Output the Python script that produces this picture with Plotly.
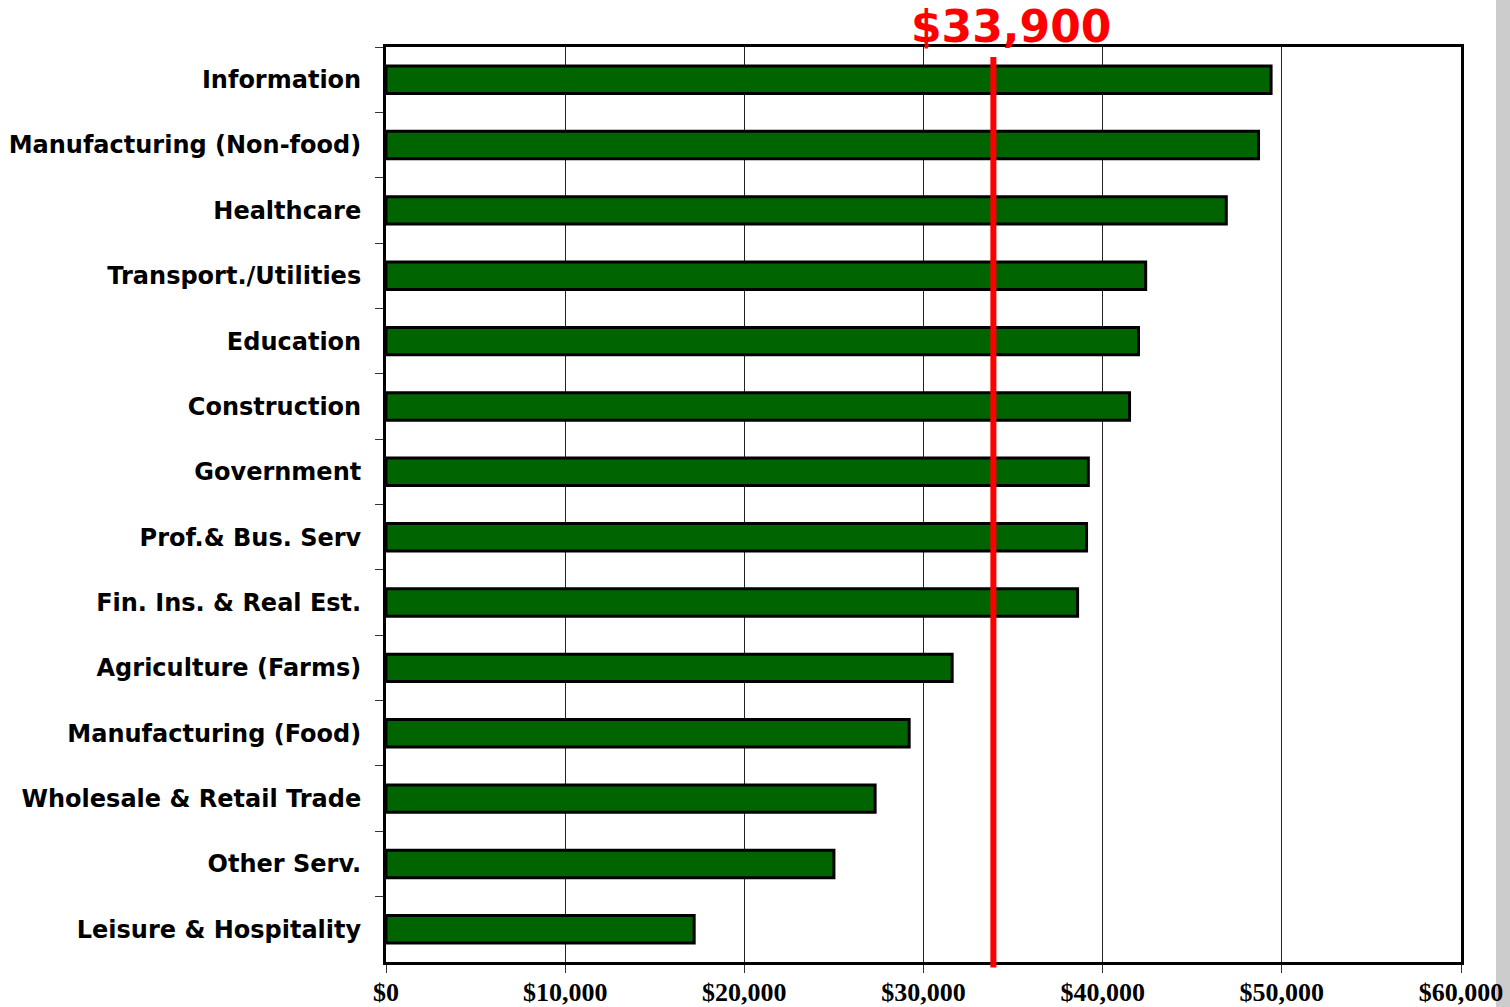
import plotly.graph_objects as go

categories = [
    "Information", "Manufacturing (Non-food)", "Healthcare", "Transport./Utilities",
    "Education", "Construction", "Government", "Prof.& Bus. Serv",
    "Fin. Ins. & Real Est.", "Agriculture (Farms)", "Manufacturing (Food)",
    "Wholesale & Retail Trade", "Other Serv.", "Leisure & Hospitality",
]
wages = [49400, 48700, 46900, 42400, 42000, 41500, 39200, 39100, 38600,
         31600, 29200, 27300, 25000, 17200]
average_wage = 33900
average_label = "$33,900"
x_tick_vals = [0, 10000, 20000, 30000, 40000, 50000, 60000]
x_tick_text = ["$0", "$10,000", "$20,000", "$30,000", "$40,000", "$50,000", "$60,000"]

fig = go.Figure()
fig.add_trace(go.Bar(
    y=categories, x=wages, orientation="h",
    marker=dict(color="#006400", line=dict(color="black", width=3)),
    width=0.42,
))

fig.add_shape(type="line", xref="x", yref="paper",
              x0=average_wage, x1=average_wage, y0=-0.006, y1=0.989,
              line=dict(color="#ff0000", width=6), layer="above")
fig.add_annotation(xref="x", yref="paper", x=average_wage + 1000, y=1.0,
                   yanchor="bottom", xanchor="center", yshift=-7,
                   text=average_label, showarrow=False,
                   font=dict(family="DejaVu Sans", size=44, color="#ff0000", weight="bold"))

# grey strip on right edge
fig.add_shape(type="rect", xref="paper", yref="paper",
              x0=1.0 + (1496 - 1461) / 1075, x1=1.0 + (1520 - 1461) / 1075,
              y0=-1, y1=2, fillcolor="#cccccc", line=dict(width=0), layer="below")

fig.update_layout(
    width=1510, height=1007,
    margin=dict(l=386, r=49, t=47, b=45),
    paper_bgcolor="white", plot_bgcolor="white",
    showlegend=False,
    xaxis=dict(
        range=[0, 60000], tickvals=x_tick_vals, ticktext=x_tick_text,
        showgrid=True, gridcolor="#222222", gridwidth=1,
        showline=True, linecolor="black", linewidth=3, mirror=True,
        ticks="outside", ticklen=8, tickcolor="#333333", tickwidth=1,
        tickfont=dict(family="Liberation Serif", size=26, color="black", weight="bold"),
        zeroline=False, automargin=False, ticklabelstandoff=-3,
    ),
    yaxis=dict(
        categoryorder="array", categoryarray=categories,
        autorange="reversed", tickson="boundaries",
        showgrid=False, showline=True, linecolor="black", linewidth=3, mirror=True,
        ticks="outside", ticklen=8, tickcolor="#333333", tickwidth=1,
        tickfont=dict(family="DejaVu Sans", size=24, color="black", weight="bold"),
        ticklabelstandoff=17, automargin=False,
    ),
)

fig.write_html("out.html", config={"displayModeBar": False},
               post_script="document.body.style.margin='0';")
